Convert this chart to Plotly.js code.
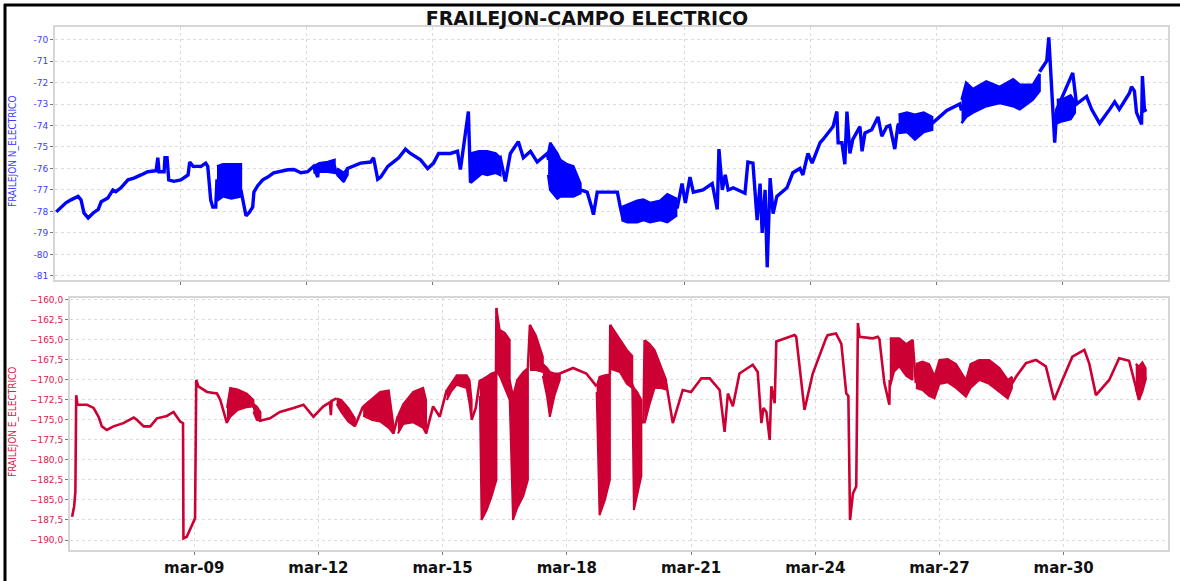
<!DOCTYPE html>
<html><head><meta charset="utf-8">
<script src="https://cdn.plot.ly/plotly-3.0.1.min.js"></script>
<style>html,body{margin:0;padding:0;background:#fff}#chart{width:1180px;height:581px}</style>
</head><body><div id="chart"></div><script>
// ---- data (x = day of March, fractional; null = gap covered by an oscillation band) ----
const xTickDays = [9, 12, 15, 18, 21, 24, 27, 30];
const xTickLabels = ['mar-09', 'mar-12', 'mar-15', 'mar-18', 'mar-21', 'mar-24', 'mar-27', 'mar-30'];
const nTickVals = [-70, -71, -72, -73, -74, -75, -76, -77, -78, -79, -80, -81];
const eTickVals = [-160, -162.5, -165, -167.5, -170, -172.5, -175, -177.5, -180, -182.5, -185, -187.5, -190];

// FRAILEJON N_ELECTRICO (top, blue)
const nDays = [6.03,6.26,6.38,6.55,6.62,6.69,6.79,6.91,7.03,7.10,7.26,7.38,7.45,7.57,7.74,7.88,8.05,8.21,8.41,8.45,8.48,8.60,8.62,8.67,8.71,8.83,9.00,9.17,9.21,9.29,9.48,9.59,9.64,9.71,9.76,9.83,9.86,null,10.43,10.48,10.55,10.62,10.71,10.74,10.83,10.95,11.07,11.21,11.55,11.69,11.86,12.02,12.16,12.26,12.28,12.66,12.69,12.88,12.97,13.28,13.52,13.59,13.69,13.76,13.93,14.19,14.35,14.47,14.71,14.88,15.02,15.14,15.42,15.59,15.66,15.85,15.88,15.90,16.61,16.73,16.85,17.04,17.16,17.33,17.49,17.73,17.76,null,18.52,18.68,18.80,18.83,18.92,19.40,19.47,19.54,null,20.80,20.83,20.94,21.02,21.13,21.21,21.44,21.66,21.78,21.82,21.90,21.97,22.04,22.16,22.44,22.51,22.63,22.73,22.80,22.85,22.92,22.97,23.04,23.11,23.20,23.44,23.58,23.75,23.82,23.94,24.04,24.23,24.30,24.54,24.63,24.66,24.75,24.82,24.87,24.94,25.01,25.18,25.23,25.30,25.46,25.61,25.70,25.82,25.89,26.01,26.08,26.10,null,26.90,27.25,27.56,27.60,null,29.46,29.63,29.68,29.75,29.82,29.87,30.25,30.34,30.58,30.70,30.89,31.13,31.25,31.36,31.60,31.65,31.72,31.77,31.89,31.91,31.96,32.01];
const nVals = [-78.02,-77.6,-77.46,-77.3,-77.46,-78.07,-78.3,-78.07,-77.9,-77.55,-77.37,-77.0,-77.08,-76.9,-76.53,-76.45,-76.3,-76.15,-76.1,-75.5,-76.15,-76.15,-75.5,-75.5,-76.53,-76.6,-76.53,-76.3,-75.7,-75.9,-75.9,-75.75,-75.9,-77.46,-77.8,-77.8,-76.5,null,-77.0,-77.46,-78.2,-78.07,-77.8,-77.1,-76.8,-76.53,-76.4,-76.2,-76.06,-76.05,-76.2,-76.15,-75.9,-76.4,-75.9,-75.9,-76.15,-76.6,-76.0,-75.75,-75.7,-75.5,-76.5,-76.4,-75.9,-75.5,-75.1,-75.3,-75.6,-76.0,-75.75,-75.3,-75.3,-75.2,-76.05,-73.35,-75.5,-76.65,-75.5,-76.6,-75.3,-74.75,-75.5,-75.2,-75.7,-75.3,-75.6,null,-77.0,-77.1,-77.9,-78.15,-77.1,-77.1,-77.8,-78.4,null,-77.8,-77.8,-76.7,-77.6,-76.4,-77.1,-77.0,-76.7,-77.9,-75.1,-77.0,-76.3,-77.0,-76.9,-77.15,-75.7,-75.75,-78.4,-76.7,-79.0,-77.0,-80.6,-76.45,-78.1,-77.3,-76.9,-76.2,-76.0,-76.3,-75.3,-75.75,-74.8,-74.65,-74.05,-73.35,-74.8,-74.8,-75.8,-73.35,-75.3,-74.65,-74.05,-75.2,-74.35,-74.2,-73.6,-74.5,-74.05,-74.0,-75.1,-74.05,-73.9,null,-73.9,-73.3,-73.0,-73.3,null,-71.5,-71.0,-69.9,-72.2,-74.8,-73.25,-71.55,-73.0,-72.65,-73.25,-73.9,-73.25,-72.9,-73.25,-72.5,-72.2,-72.4,-73.4,-73.95,-71.7,-73.3,-73.25];
// dense-oscillation envelopes (segments separated by null)
const nBandDays = [9.86,10.0,10.2,10.43,null,12.16,12.3,12.5,12.66,null,12.72,12.88,12.97,null,15.90,16.1,16.3,16.5,16.61,null,17.75,17.80,17.97,18.04,18.2,18.35,18.52,null,19.50,19.64,19.87,20.02,20.18,20.42,20.59,20.80,null,26.10,26.3,26.49,26.7,26.9,null,27.60,27.71,27.87,28.19,28.51,28.83,28.99,29.30,29.46,null,29.87,30.0,30.2,30.3];
const nBandHi = [-75.9,-75.8,-75.8,-75.8,null,-75.9,-75.75,-75.7,-75.6,null,-76.0,-76.2,-76.0,null,-75.3,-75.2,-75.2,-75.3,-75.5,null,-75.3,-74.8,-75.3,-75.6,-75.8,-75.9,-76.7,null,-77.8,-77.7,-77.5,-77.45,-77.6,-77.5,-77.2,-77.4,null,-73.5,-73.4,-73.5,-73.4,-73.6,null,-72.8,-72.0,-72.3,-71.95,-72.2,-71.85,-72.1,-72.1,-71.6,null,-72.8,-72.8,-72.6,-72.9];
const nBandLo = [-77.5,-77.3,-77.4,-77.3,null,-76.2,-76.15,-76.15,-76.2,null,-76.3,-76.6,-76.3,null,-76.6,-76.2,-76.3,-76.2,-76.3,null,-76.3,-77.0,-77.4,-77.3,-77.3,-77.3,-77.15,null,-78.4,-78.5,-78.5,-78.4,-78.5,-78.4,-78.5,-78.2,null,-74.35,-74.3,-74.65,-74.3,-74.2,null,-73.9,-73.6,-73.4,-73.1,-72.95,-73.1,-73.25,-72.8,-72.4,null,-73.9,-73.8,-73.7,-73.4];

// FRAILEJON E_ELECTRICO (bottom, red)
const eDays = [6.05,6.10,6.13,6.15,6.18,6.41,6.57,6.69,6.77,6.89,7.05,7.29,7.54,7.62,7.78,7.94,8.10,8.34,8.50,8.66,8.73,8.74,8.82,8.94,9.02,9.05,9.10,9.31,9.55,9.63,9.79,null,10.43,10.59,10.83,11.07,11.40,11.64,11.88,12.12,12.28,12.30,12.32,12.44,null,12.88,13.08,null,13.81,13.92,null,14.60,14.77,14.93,15.10,null,15.70,15.80,15.90,null,16.29,16.30,null,17.06,17.11,null,17.83,18.15,18.47,18.72,null,19.04,19.05,null,19.80,19.85,19.88,null,20.40,20.56,20.80,21.00,21.25,21.45,21.69,21.81,21.89,22.01,22.17,22.49,22.61,22.70,22.75,22.82,22.90,22.94,23.02,23.06,23.50,23.54,23.74,23.94,24.26,24.30,24.50,24.63,24.75,24.80,24.84,24.91,24.99,25.03,25.07,25.39,25.51,25.55,25.67,25.79,25.80,null,26.35,26.43,null,28.75,28.85,29.09,29.33,29.57,29.77,29.97,30.21,30.50,30.62,30.78,31.10,31.34,31.58,31.74,31.82,31.90,31.98];
const eVals = [-187.1,-185.8,-184.0,-171.9,-173.1,-173.1,-173.5,-174.6,-175.8,-176.25,-175.8,-175.4,-174.7,-175.0,-175.8,-175.8,-174.8,-174.5,-174.0,-175.2,-175.4,-189.8,-189.6,-188.3,-187.3,-170.0,-170.8,-171.5,-171.7,-172.5,-175.4,null,-173.3,-175.1,-174.8,-174.0,-173.5,-173.1,-174.6,-173.3,-172.8,-174.4,-172.6,-172.3,null,-175.8,-173.3,null,-176.7,-174.5,null,-176.7,-173.3,-174.6,-171.25,null,-175.0,-173.5,-170.0,null,-169.0,-161.0,null,-168.5,-163.1,null,-169.2,-168.5,-169.2,-170.8,null,-169.3,-163.1,null,-175.0,-175.4,-165.0,null,-170.4,-175.4,-171.25,-171.5,-169.8,-169.8,-171.25,-176.5,-171.7,-173.3,-169.2,-168.1,-169.0,-175.4,-173.5,-174.0,-177.5,-170.8,-172.9,-165.2,-164.4,-164.6,-173.75,-169.2,-164.8,-164.4,-164.2,-165.5,-171.7,-172.0,-187.5,-184.2,-183.3,-162.9,-164.6,-164.8,-164.6,-164.9,-170.4,-173.1,-170.0,null,-165.0,-170.4,null,-170.5,-169.6,-167.9,-167.5,-168.3,-172.5,-170.0,-167.1,-166.25,-168.0,-171.9,-170.0,-167.3,-167.6,-170.8,-172.5,-168.3,-170.0];
const eBandDays = [9.79,9.87,10.05,10.27,10.43,null,10.43,10.51,10.6,null,12.44,12.55,12.72,12.88,null,13.08,13.3,13.49,13.7,13.81,null,13.92,14.05,14.29,14.53,14.6,null,15.10,15.2,15.34,15.58,15.65,15.70,null,15.90,15.94,16.06,16.18,16.30,null,16.30,16.38,16.50,16.62,null,16.62,16.70,16.80,16.95,17.06,null,17.11,17.25,17.42,null,17.42,17.52,17.59,17.70,17.83,null,18.72,18.79,18.92,19.04,null,19.05,19.28,19.45,19.58,null,19.58,19.62,19.70,19.80,null,19.88,20.0,20.12,20.28,20.40,null,25.80,25.9,26.03,26.2,26.35,null,26.43,26.59,26.75,26.88,27.00,27.2,27.4,27.64,27.75,27.96,28.2,28.45,28.65,28.75,null,31.74,31.82,31.90,31.98];
const eBandHi = [-173.5,-171.0,-171.2,-171.7,-172.5,null,-173.0,-173.3,-174.0,null,-172.3,-172.5,-173.5,-174.8,null,-173.3,-172.3,-171.5,-171.3,-175.5,null,-174.5,-173.0,-171.5,-171.0,-172.5,null,-171.25,-170.5,-169.4,-169.4,-170.0,-172.5,null,-170.0,-170.0,-169.6,-169.2,-169.0,null,-161.0,-163.75,-164.1,-165.0,null,-170.0,-172.0,-170.0,-169.0,-168.5,null,-163.1,-164.4,-167.1,null,-168.0,-168.5,-169.0,-169.2,-169.2,null,-170.8,-169.6,-169.4,-169.3,null,-163.1,-165.0,-166.25,-167.0,null,-170.5,-171.0,-171.5,-172.5,null,-165.0,-165.5,-166.25,-168.5,-170.0,null,-164.8,-164.8,-164.8,-165.5,-165.0,null,-168.0,-167.7,-168.0,-169.5,-167.5,-167.4,-168.0,-170.0,-168.0,-167.5,-167.5,-168.5,-170.0,-169.6,null,-168.0,-168.3,-167.8,-168.5];
const eBandLo = [-175.4,-174.6,-173.75,-173.4,-173.3,null,-174.0,-175.0,-175.1,null,-173.0,-174.0,-175.2,-175.8,null,-174.5,-175.0,-175.2,-176.0,-176.7,null,-176.7,-175.5,-175.3,-176.0,-176.7,null,-172.5,-171.5,-170.6,-171.0,-173.0,-175.0,null,-172.0,-187.5,-186.3,-184.6,-182.5,null,-169.0,-169.5,-171.0,-172.5,null,-172.5,-187.5,-186.0,-184.5,-182.5,null,-168.75,-168.75,-169.0,null,-169.5,-172.0,-174.6,-172.0,-170.0,null,-171.5,-186.9,-185.0,-182.5,null,-168.6,-169.0,-170.5,-171.0,null,-171.0,-186.25,-184.5,-182.0,null,-175.4,-173.0,-171.0,-171.0,-171.2,null,-171.0,-169.0,-168.3,-169.5,-170.0,null,-171.0,-171.25,-172.0,-172.3,-170.5,-170.3,-171.0,-172.1,-171.0,-170.0,-170.5,-171.5,-172.3,-171.0,null,-171.0,-172.5,-171.5,-170.0];

// ---- helpers ----
function toDate(d) {
  if (d === null) return null;
  const t = new Date(Date.UTC(2020, 2, 1) + (d - 1) * 86400000);
  return t.toISOString().slice(0, 19).replace('T', ' ');
}
function bandPoly(days, hi, lo) {
  const xs = [], ys = [];
  let sd = [], sh = [], sl = [];
  const flush = () => {
    if (!sd.length) return;
    const fx = sd.map(toDate);
    xs.push(...fx, ...fx.slice().reverse(), null);
    ys.push(...sh, ...sl.slice().reverse(), null);
    sd = []; sh = []; sl = [];
  };
  for (let i = 0; i < days.length; i++) {
    if (days[i] === null) { flush(); continue; }
    sd.push(days[i]); sh.push(hi[i]); sl.push(lo[i]);
  }
  flush();
  return {xs, ys};
}

const BLUE = '#0000ff', RED = '#cc0033';
const nb = bandPoly(nBandDays, nBandHi, nBandLo);
const eb = bandPoly(eBandDays, eBandHi, eBandLo);

const traces = [
  {x: nb.xs, y: nb.ys, xaxis: 'x', yaxis: 'y', mode: 'lines', fill: 'toself', fillcolor: BLUE,
   line: {color: BLUE, width: 2.5}, hoverinfo: 'skip'},
  {x: nDays.map(toDate), y: nVals, xaxis: 'x', yaxis: 'y', mode: 'lines', connectgaps: false,
   line: {color: BLUE, width: 3.4}},
  {x: eb.xs, y: eb.ys, xaxis: 'x2', yaxis: 'y2', mode: 'lines', fill: 'toself', fillcolor: RED,
   line: {color: RED, width: 2}, hoverinfo: 'skip'},
  {x: eDays.map(toDate), y: eVals, xaxis: 'x2', yaxis: 'y2', mode: 'lines', connectgaps: false,
   line: {color: RED, width: 2.6}}
];

const W = 1180, H = 581;
const gridStyle = {showgrid: true, gridcolor: '#dcdcdc', griddash: 'dot', gridwidth: 1,
  showline: true, mirror: true, linecolor: '#d6d6d6', linewidth: 2, zeroline: false,
  ticks: 'outside', ticklen: 3, tickcolor: '#777'};
const xRange = [toDate(6.0), toDate(32.52)];

const layout = {
  width: W, height: H,
  margin: {l: 0, r: 0, t: 0, b: 0},
  paper_bgcolor: '#ffffff', plot_bgcolor: '#ffffff',
  showlegend: false, hovermode: false,
  separators: ',.',
  title: {text: '<b>FRAILEJON-CAMPO ELECTRICO</b>', x: 587 / W, xanchor: 'center',
          y: 1 - 18 / H, yanchor: 'middle', yref: 'container', xref: 'container',
          font: {family: 'DejaVu Sans, sans-serif', size: 19, color: '#111'}},
  xaxis: Object.assign({}, gridStyle, {domain: [55 / W, 1168 / W], anchor: 'y', type: 'date',
    range: xRange, tickvals: xTickDays.map(toDate), showticklabels: false}),
  yaxis: Object.assign({}, gridStyle, {domain: [1 - 280 / H, 1 - 27.3 / H], anchor: 'x',
    range: [-81.19, -69.43], tickvals: nTickVals, ticktext: nTickVals.map(String),
    tickfont: {family: 'DejaVu Sans, sans-serif', size: 9, color: '#3b3bff'}}),
  xaxis2: Object.assign({}, gridStyle, {domain: [70 / W, 1168 / W], anchor: 'y2', type: 'date',
    range: xRange, tickvals: xTickDays.map(toDate), ticktext: xTickLabels.map(s => '<b>' + s + '</b>'),
    tickfont: {family: 'DejaVu Sans, sans-serif', size: 15, color: '#111'}}),
  yaxis2: Object.assign({}, gridStyle, {domain: [1 - 550 / H, 1 - 298.3 / H], anchor: 'x2',
    range: [-191.25, -159.8], tickvals: eTickVals, tickformat: '.1f',
    tickfont: {family: 'DejaVu Sans, sans-serif', size: 9, color: '#d8204c'}}),
  annotations: [
    {text: 'FRAILEJON N_ELECTRICO', xref: 'paper', yref: 'paper', x: 13 / W, y: 1 - 152 / H,
     textangle: -90, showarrow: false, xanchor: 'center', yanchor: 'middle',
     font: {family: 'Liberation Sans Narrow, DejaVu Sans Condensed, sans-serif', size: 10, color: '#3b3bff'}},
    {text: 'FRAILEJON E_ELECTRICO', xref: 'paper', yref: 'paper', x: 13 / W, y: 1 - 422 / H,
     textangle: -90, showarrow: false, xanchor: 'center', yanchor: 'middle',
     font: {family: 'Liberation Sans Narrow, DejaVu Sans Condensed, sans-serif', size: 10, color: '#d8204c'}}
  ],
  shapes: [
    {type: 'line', xref: 'paper', yref: 'paper', x0: 4 / W, x1: 1, y0: 1 - 5 / H, y1: 1 - 5 / H,
     line: {color: '#000', width: 3}},
    {type: 'line', xref: 'paper', yref: 'paper', x0: 5 / W, x1: 5 / W, y0: 0, y1: 1 - 4 / H,
     line: {color: '#000', width: 3}}
  ]
};

Plotly.newPlot('chart', traces, layout, {staticPlot: true, displayModeBar: false});
</script></body></html>
